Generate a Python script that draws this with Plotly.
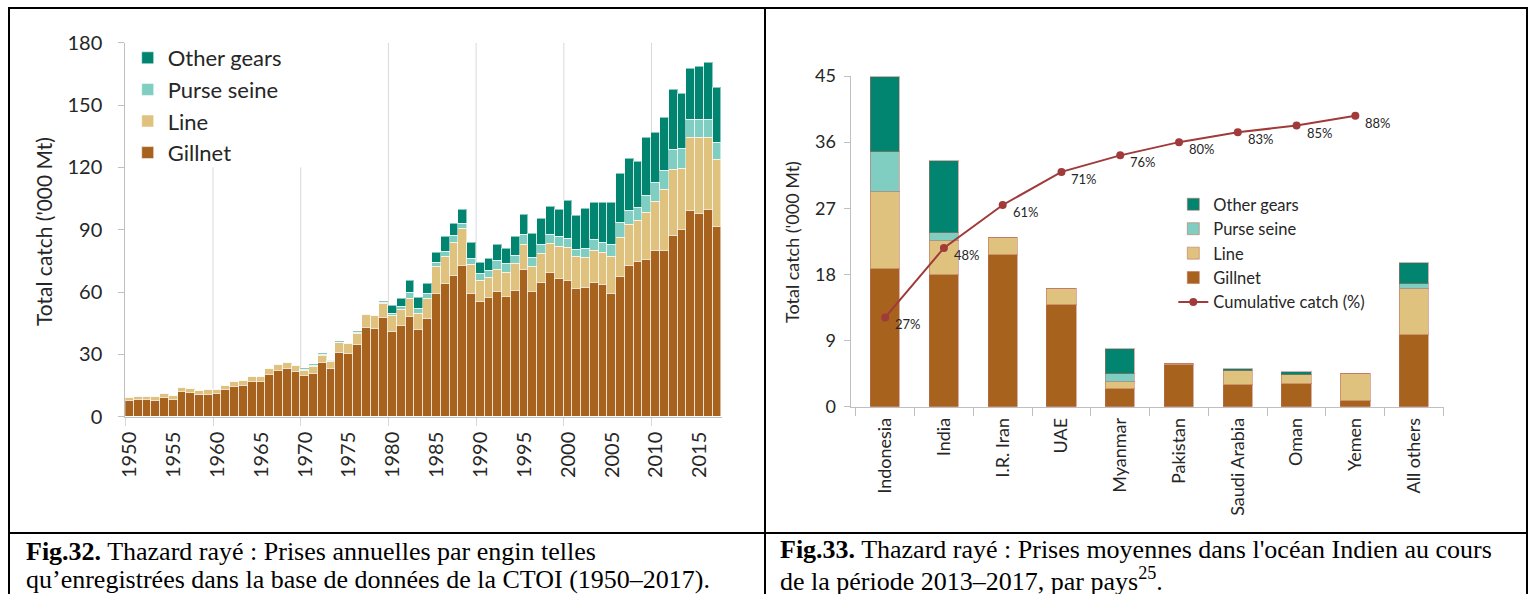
import plotly.graph_objects as go

W, H = 1529, 594
def px(x): return x / W
def py(y): return 1 - y / H

# ---------------- Fig.32 data: annual catch by gear ('000 t) ----------------
years = list(range(1950, 2018))
gillnet = [7.7, 8.2, 8.2, 7.7, 9.0, 8.2, 12.0, 11.4, 10.4, 10.6,
           10.9, 12.8, 14.4, 15.1, 17.0, 16.9, 20.2, 22.0, 23.3, 21.5,
           19.6, 20.7, 26.0, 23.3, 30.8, 30.3, 34.5, 42.7, 42.2, 47.8,
           40.9, 43.6, 48.3, 41.7, 47.3, 59.4, 64.0, 67.7, 72.8, 59.0,
           55.3, 57.1, 60.0, 57.9, 60.5, 70.9, 60.2, 64.3, 69.1, 66.4,
           65.4, 61.8, 62.2, 64.4, 63.4, 59.4, 67.4, 72.7, 74.4, 75.7,
           80.0, 80.0, 87.1, 90.0, 99.1, 97.7, 99.5, 91.3]
line = [1.6, 1.4, 1.4, 1.9, 1.9, 1.8, 2.1, 2.1, 2.0, 2.4,
        2.1, 2.1, 2.3, 2.2, 2.4, 2.4, 2.9, 3.0, 2.7, 3.2,
        2.7, 3.4, 3.4, 3.2, 4.7, 5.0, 5.6, 6.5, 6.6, 6.6,
        7.5, 8.1, 8.3, 7.7, 9.6, 12.6, 12.8, 16.2, 17.7, 14.0,
        10.3, 10.0, 10.9, 11.2, 13.3, 11.7, 12.1, 14.3, 14.3, 15.2,
        15.8, 15.4, 14.5, 15.7, 15.7, 17.4, 18.6, 19.7, 19.9, 22.5,
        23.5, 29.4, 31.9, 29.5, 35.2, 36.6, 34.8, 32.5]
purse = [0]*20 + [
        0.5, 0.4, 0.4, 0.3, 0.3, 0.0, 0.3, 0.0, 0.0, 0.6,
        1.2, 1.2, 3.2, 2.7, 2.1, 2.3, 2.6, 3.2, 2.4, 3.0,
        3.2, 3.3, 4.2, 4.7, 3.8, 5.0, 4.1, 4.3, 4.0, 5.0,
        4.3, 3.3, 4.3, 5.0, 4.6, 5.8, 7.5, 6.9, 6.3, 8.3,
        8.9, 9.0, 9.3, 9.3, 8.5, 8.5, 8.5, 7.9]
other = [0]*20 + [
        0.5, 0.7, 0.5, 0.3, 0.3, 0.0, 0.3, 0.0, 0.0, 0.5,
        3.8, 3.7, 5.6, 5.2, 5.0, 4.6, 7.4, 5.6, 6.6, 7.6,
        5.2, 5.6, 7.7, 7.0, 9.2, 9.6, 11.7, 12.2, 13.7, 13.0,
        18.6, 16.4, 19.1, 18.0, 19.4, 20.2, 23.6, 25.0, 22.1, 27.9,
        24.1, 25.6, 28.9, 26.6, 24.5, 25.6, 27.6, 26.8]
year_labels = [str(y) for y in range(1950, 2016, 5)]
grid_years = [1960, 1970, 1980, 1990, 2000, 2010]
grid_tops = [120, 120, 180, 180, 180, 180]

# ---------------- Fig.33 data: average catch 2013-2017 by country ----------------
countries = ["Indonesia", "India", "I.R. Iran", "UAE", "Myanmar", "Pakistan",
             "Saudi Arabia", "Oman", "Yemen", "All others"]
c_gillnet = [18.8, 17.9, 20.7, 13.9, 2.4, 5.7, 2.9, 3.1, 0.8, 9.8]
c_line = [10.4, 4.7, 2.2, 2.1, 1.0, 0.1, 1.9, 1.2, 3.6, 6.2]
c_purse = [5.5, 1.1, 0.0, 0.0, 1.0, 0.0, 0.1, 0.05, 0.0, 0.7]
c_other = [10.1, 9.8, 0.1, 0.0, 3.4, 0.0, 0.2, 0.35, 0.0, 2.8]
cum_countries = countries[:9]
cum_pct = [27, 48, 61, 71, 76, 80, 83, 85, 88]

COL = {"Gillnet": "#A7621D", "Line": "#DFC27D", "Purse seine": "#80CDC1", "Other gears": "#018571"}
RANK = {"Other gears": 1, "Purse seine": 2, "Line": 3, "Gillnet": 4}
FONT = "Lato"
TXT = "#262626"
AX = "#BFBFBF"

fig = go.Figure()

# left stacked bars
for name, vals in [("Gillnet", gillnet), ("Line", line), ("Purse seine", purse), ("Other gears", other)]:
    fig.add_trace(go.Bar(x=years, y=vals, name=name, width=1.0,
                         marker=dict(color=COL[name], line=dict(color="rgba(255,255,255,0.55)", width=1)),
                         xaxis="x", yaxis="y", legend="legend", legendrank=RANK[name]))

# right stacked bars
for name, vals in [("Gillnet", c_gillnet), ("Line", c_line), ("Purse seine", c_purse), ("Other gears", c_other)]:
    fig.add_trace(go.Bar(x=countries, y=vals, name=name, width=0.5,
                         marker=dict(color=COL[name], line=dict(color="rgba(190,110,95,0.55)", width=1)),
                         xaxis="x3", yaxis="y3", legend="legend2", legendrank=RANK[name]))

fig.add_trace(go.Scatter(x=cum_countries, y=cum_pct, name="Cumulative catch (%)",
                         mode="lines+markers", line=dict(color="#A13A3A", width=2),
                         marker=dict(color="#A13A3A", size=8),
                         xaxis="x3", yaxis="y4", legend="legend2", legendrank=5))

annots = []
for c, p in zip(cum_countries, cum_pct):
    annots.append(dict(x=c, y=p, xref="x3", yref="y4", text=f"{p}%", showarrow=False,
                       xanchor="left", yanchor="middle", xshift=8, yshift=-7,
                       font=dict(family=FONT, size=13, color=TXT)))

shapes = []
for gy, top in zip(grid_years, grid_tops):
    shapes.append(dict(type="line", xref="x", yref="y", x0=gy - 0.5, x1=gy - 0.5, y0=0, y1=top,
                       line=dict(color="#D9D9D9", width=1), layer="below"))

# table borders
bw = dict(color="black", width=2)
shapes += [
    dict(type="line", xref="paper", yref="paper", x0=px(8), x1=px(1528), y0=py(8), y1=py(8), line=bw),
    dict(type="line", xref="paper", yref="paper", x0=px(9), x1=px(9), y0=py(8), y1=0, line=bw),
    dict(type="line", xref="paper", yref="paper", x0=px(765), x1=px(765), y0=py(8), y1=0, line=bw),
    dict(type="line", xref="paper", yref="paper", x0=px(1527), x1=px(1527), y0=py(8), y1=0, line=bw),
    dict(type="line", xref="paper", yref="paper", x0=px(9), x1=px(1527), y0=py(533), y1=py(533), line=bw),
]

annots += [
    dict(x=px(43), y=py(232), xref="paper", yref="paper", text="Total catch ('000 Mt)", textangle=-90,
         showarrow=False, font=dict(family=FONT, size=21, color=TXT), xanchor="center", yanchor="middle"),
    dict(x=px(792), y=py(242), xref="paper", yref="paper", text="Total catch ('000 Mt)", textangle=-90,
         showarrow=False, font=dict(family=FONT, size=18, color=TXT), xanchor="center", yanchor="middle"),
]
cap_font = dict(family="Liberation Serif", size=26, color="black")
captions = [
    (24, 551, "<b>Fig.32.</b> Thazard rayé : Prises annuelles par engin telles"),
    (24, 579, "qu’enregistrées dans la base de données de la CTOI (1950–2017)."),
    (778, 549, "<b>Fig.33.</b> Thazard rayé : Prises moyennes dans l'océan Indien au cours"),
    (778, 579, "de la période 2013–2017, par pays<sup>25</sup>."),
]
for x, y, t in captions:
    annots.append(dict(x=px(x), y=py(y), xref="paper", yref="paper", text=t, showarrow=False,
                       xanchor="left", yanchor="middle", font=cap_font))

fig.update_layout(
    width=W, height=H, autosize=False,
    margin=dict(l=0, r=0, t=0, b=0, pad=0, autoexpand=False),
    paper_bgcolor="white", plot_bgcolor="rgba(0,0,0,0)",
    barmode="stack", bargap=0,
    font=dict(family=FONT, color=TXT),
    xaxis=dict(domain=[px(125.3), px(721.7)], range=[1949.5, 2017.5], anchor="y", automargin=False,
               tickmode="array", tickvals=list(range(1950, 2016, 5)), ticktext=year_labels,
               tickangle=-90, ticks="", showgrid=False, zeroline=False,
               showline=True, linecolor=AX, linewidth=1,
               tickfont=dict(size=20, color=TXT), ticklabelstandoff=6,
               minor=dict(tickmode="array", tickvals=[1949.5 + 10 * k for k in range(7)],
                          ticks="outside", ticklen=8, tickcolor="#D9D9D9", showgrid=False)),
    yaxis=dict(domain=[py(416.7), py(42.7)], range=[0, 180], dtick=30, anchor="x", automargin=False,
               ticks="outside", ticklen=6, tickcolor=AX, showgrid=False, zeroline=False,
               showline=True, linecolor=AX, linewidth=1, tickfont=dict(size=20, color=TXT),
               ticklabelstandoff=12),
    xaxis3=dict(domain=[px(850.5), px(1443.5)], anchor="y3", type="category", automargin=False,
                tickangle=-90, ticks="outside", tickson="boundaries", ticklen=8, tickcolor=AX,
                showgrid=False, showline=True, linecolor=AX, linewidth=1,
                tickfont=dict(size=18, color=TXT), ticklabelstandoff=3),
    yaxis3=dict(domain=[py(406.7), py(76)], range=[0, 45], dtick=9, anchor="x3", automargin=False,
                ticks="outside", ticklen=6, tickcolor=AX, showgrid=False, zeroline=False,
                showline=True, linecolor=AX, linewidth=1, tickfont=dict(size=18, color=TXT),
                ticklabelstandoff=4),
    yaxis4=dict(overlaying="y3", range=[0, 100], anchor="x3", side="right", automargin=False,
                showticklabels=False, ticks="", showline=False, showgrid=False, zeroline=False),
    legend=dict(x=px(127.7), y=py(37), xanchor="left", yanchor="top", bgcolor="rgba(255,255,255,0)",
                traceorder="normal", font=dict(family=FONT, size=22, color=TXT), borderwidth=0),
    legend2=dict(x=px(1173.3), y=py(187), xanchor="left", yanchor="top", bgcolor="rgba(255,255,255,0)",
                 traceorder="normal", font=dict(family=FONT, size=16.5, color=TXT), borderwidth=0),
    shapes=shapes, annotations=annots,
)

fig.write_html("out.html", config={"displayModeBar": False},
               post_script="document.documentElement.style.margin='0';document.body.style.margin='0';"
                           "document.body.style.overflow='hidden';")
